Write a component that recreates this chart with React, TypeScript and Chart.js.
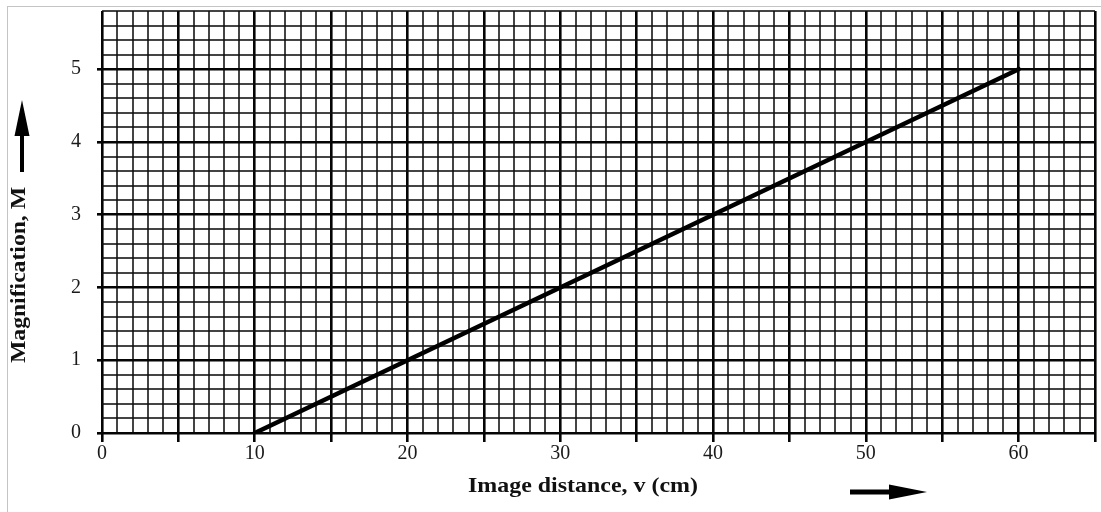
import React, { useEffect, useRef } from "react";
import { Chart, registerables } from "chart.js";

Chart.register(...registerables);

// Data
const imageDistance = [10, 60]; // v (cm)
const magnification = [0, 5]; // M

const xLabelValues = [0, 10, 20, 30, 40, 50, 60];
const yLabelValues = [0, 1, 2, 3, 4, 5];
const xTitle = "Image distance, v (cm)";
const yTitle = "Magnification, M";

const W = 1101;
const H = 512;

const near = (a: number, b: number) => Math.abs(a - b) < 1e-6;
const isMult = (v: number, m: number) => near(v / m, Math.round(v / m));

function drawStretchedText(
  ctx: CanvasRenderingContext2D,
  text: string,
  cx: number,
  cy: number,
  targetWidth: number,
  rotate: number
) {
  ctx.save();
  ctx.translate(cx, cy);
  ctx.rotate(rotate);
  const w = ctx.measureText(text).width;
  ctx.scale(targetWidth / w, 1);
  ctx.textAlign = "center";
  ctx.textBaseline = "middle";
  ctx.fillText(text, 0, 0);
  ctx.restore();
}

function arrow(
  ctx: CanvasRenderingContext2D,
  x1: number,
  y1: number,
  x2: number,
  y2: number,
  shaft: number,
  headLen: number,
  headW: number
) {
  const ang = Math.atan2(y2 - y1, x2 - x1);
  const len = Math.hypot(x2 - x1, y2 - y1);
  ctx.save();
  ctx.translate(x1, y1);
  ctx.rotate(ang);
  ctx.fillStyle = "#000";
  ctx.fillRect(0, -shaft / 2, len - headLen + 2, shaft);
  ctx.beginPath();
  ctx.moveTo(len, 0);
  ctx.lineTo(len - headLen, -headW / 2);
  ctx.lineTo(len - headLen, headW / 2);
  ctx.closePath();
  ctx.fill();
  ctx.restore();
}

const decorPlugin = {
  id: "decor",
  afterDraw(chart: any) {
    const ctx: CanvasRenderingContext2D = chart.ctx;
    ctx.save();
    ctx.fillStyle = "#111";
    ctx.font = "bold 21px 'Liberation Serif', serif";
    drawStretchedText(ctx, xTitle, 583, 487, 230, 0);
    drawStretchedText(ctx, yTitle, 20, 275, 176, -Math.PI / 2);
    arrow(ctx, 850, 492, 927, 492, 5, 38, 15);
    arrow(ctx, 22, 172, 22, 100, 4, 36, 15);
    ctx.restore();
  },
};

export default function App() {
  const ref = useRef<HTMLCanvasElement | null>(null);

  useEffect(() => {
    if (!ref.current) return;
    const minor = "rgba(15,15,15,0.78)";
    const major = "#050505";
    const chart = new Chart(ref.current, {
      type: "scatter",
      data: {
        datasets: [
          {
            data: imageDistance.map((v, i) => ({ x: v, y: magnification[i] })),
            showLine: true,
            borderColor: "#000",
            borderWidth: 4.5,
            pointRadius: 0,
            borderCapStyle: "round",
          },
        ],
      },
      options: {
        animation: false,
        responsive: false,
        devicePixelRatio: 1,
        layout: { padding: { left: 0, top: 11, right: 6, bottom: 0 } },
        plugins: {
          legend: { display: false },
          tooltip: { enabled: false },
        },
        scales: {
          x: {
            type: "linear",
            min: 0,
            max: 65,
            afterFit: (s: any) => {
              s.height = 79;
              s.paddingLeft = 0;
              s.paddingRight = 0;
            },
            border: { display: false },
            grid: {
              color: (c: any) => (isMult(c.tick.value, 5) ? major : minor),
              lineWidth: (c: any) => (isMult(c.tick.value, 5) ? 2.6 : 2),
              drawTicks: true,
              tickLength: 9,
              tickColor: (c: any) =>
                c.tick && isMult(c.tick.value, 5) ? major : "rgba(0,0,0,0)",
              tickWidth: 2.6,
            },
            ticks: {
              stepSize: 1,
              autoSkip: false,
              maxRotation: 0,
              padding: 0,
              color: "#1a1a1a",
              font: { family: "'Liberation Serif', serif", size: 20 },
              callback: (v: any) => {
                const n = Number(v);
                return xLabelValues.some((x) => near(x, n)) ? String(Math.round(n)) : "";
              },
            },
          },
          y: {
            type: "linear",
            min: 0,
            max: 5.8,
            afterFit: (s: any) => {
              s.width = 102;
              s.paddingTop = 0;
              s.paddingBottom = 0;
            },
            border: { display: false },
            grid: {
              color: (c: any) => (isMult(c.tick.value, 1) ? major : minor),
              lineWidth: (c: any) => (isMult(c.tick.value, 1) ? 2.6 : 2),
              drawTicks: true,
              tickLength: 5,
              tickColor: (c: any) =>
                c.tick && isMult(c.tick.value, 1) ? major : "rgba(0,0,0,0)",
              tickWidth: 2.6,
            },
            ticks: {
              stepSize: 0.2,
              autoSkip: false,
              padding: 16,
              color: "#1a1a1a",
              font: { family: "'Liberation Serif', serif", size: 20 },
              callback: (v: any) => {
                const n = Number(v);
                return yLabelValues.some((y) => near(y, n)) ? String(Math.round(n)) : "";
              },
            },
          },
        },
      },
      plugins: [decorPlugin],
    } as any);
    return () => chart.destroy();
  }, []);

  return (
    <div
      style={{
        position: "absolute",
        left: 0,
        top: 0,
        width: W,
        height: H,
        background: "#fff",
        overflow: "hidden",
      }}
    >
      <div
        style={{
          position: "absolute",
          left: 7,
          top: 6,
          right: 0,
          bottom: 0,
          borderTop: "1px solid #c4c4c4",
          borderLeft: "1px solid #c4c4c4",
        }}
      />
      <canvas
        ref={ref}
        width={W}
        height={H}
        style={{ position: "absolute", left: 0, top: 0, width: W, height: H }}
      />
    </div>
  );
}
